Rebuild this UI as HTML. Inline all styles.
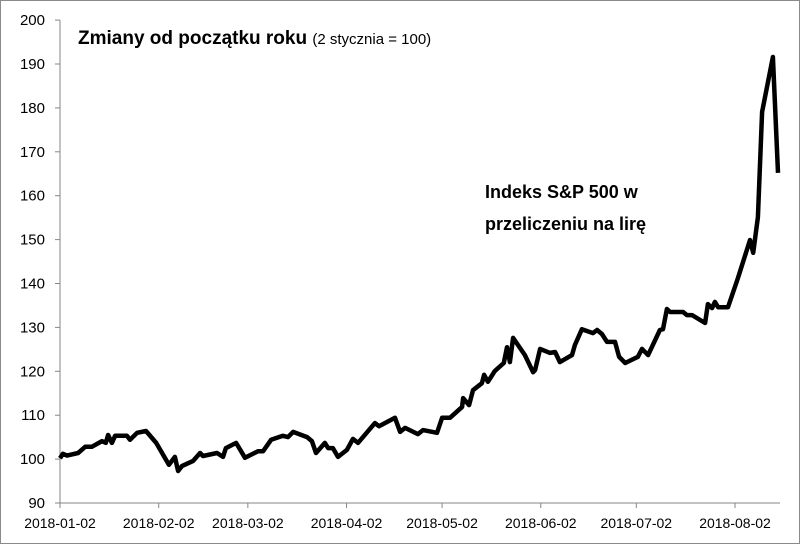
<!DOCTYPE html>
<html><head><meta charset="utf-8"><style>
body{margin:0;background:#fff}
svg{display:block;font-family:"Liberation Sans",Calibri,sans-serif}
</style></head><body>
<svg id="chart" width="800" height="544">
<rect x="0.5" y="0.5" width="799" height="543" fill="#fff" stroke="#8a8a8a"/>
<text x="78" y="44" font-size="19" font-weight="bold" fill="#000">Zmiany od początku roku <tspan font-size="15" font-weight="normal">(2 stycznia = 100)</tspan></text>
<text x="485" y="198" font-size="18" font-weight="bold">Indeks S&amp;P 500 w</text>
<text x="485" y="230" font-size="18" font-weight="bold">przeliczeniu na lirę</text>
<g id="axes"></g>
<g id="marks"></g>
</svg>
<script>
const days=[0,0.9,2.2,5.7,7.9,10,13.2,14.4,15.1,16.3,17.3,21,22,24.2,27,30.2,34.2,36.1,37.1,38.3,41.8,44,44.9,49.3,51.2,52.1,55.3,58.1,62.2,63.8,66.3,70,71.6,73.2,77.6,79.1,80.4,83.2,84.2,85.7,87.3,90.1,92,93.6,98.9,100.2,105.2,106.8,108.4,112.4,114,118.4,120,122.5,126.3,126.6,128.5,129.7,132.5,133.2,134.4,136.6,139.4,140.4,141.3,142.3,146,148.6,149.2,150.8,153.9,155.5,157,160.8,161.7,163.9,167.4,168.7,170.2,171.8,174.3,175.6,177.5,181.5,182.8,184.7,188.4,189.4,190.6,191.6,195.7,196.9,198.5,202.6,203.5,204.8,205.7,206.7,209.8,212.9,216.7,217.7,219.2,220.5,223.9,225.5];
const values=[100.2,101.2,100.8,101.4,102.8,102.8,104.1,103.7,105.5,103.7,105.3,105.3,104.4,106,106.4,103.7,98.7,100.5,97.3,98.4,99.6,101.4,100.7,101.4,100.5,102.5,103.7,100.3,101.8,101.8,104.4,105.3,105,106.2,105,104.1,101.4,103.7,102.5,102.5,100.5,102.1,104.6,103.7,108.2,107.5,109.4,106.2,107.1,105.7,106.6,106,109.4,109.4,111.9,113.9,112.3,115.7,117.3,119.2,117.6,120.1,121.9,125.5,122.1,127.6,123.7,119.8,120.3,125.1,124.2,124.4,122.1,123.7,126,129.6,128.7,129.4,128.5,126.7,126.7,123.3,121.9,123.3,125.1,123.7,129.4,129.6,134.2,133.5,133.5,132.8,132.8,131,135.3,134.4,135.8,134.6,134.6,141.2,149.9,147,155.1,179.1,191.6,165.2];
const yTicks=[90,100,110,120,130,140,150,160,170,180,190,200];
const xTickDays=[0,31,59,90,120,151,181,212];
const xTickLabels=["2018-01-02","2018-02-02","2018-03-02","2018-04-02","2018-05-02","2018-06-02","2018-07-02","2018-08-02"];
const NS="http://www.w3.org/2000/svg";
const X0=60,PXD=3.184,Y90=503,PXV=4.39;
function xs(d){return X0+d*PXD;}
function ys(v){return Y90-(v-90)*PXV;}
const axes=document.getElementById('axes'),marks=document.getElementById('marks');
function mk(tag,attrs,parent){const e=document.createElementNS(NS,tag);for(const k in attrs)e.setAttribute(k,attrs[k]);parent.appendChild(e);return e;}
const ya=mk('line',{x1:60,y1:ys(200),x2:60,y2:503,stroke:'#868686','stroke-width':1},axes);


const xa=mk('line',{x1:60,y1:503,x2:780,y2:503,stroke:'#868686','stroke-width':1},axes);


yTicks.forEach(v=>{
  const t=mk('line',{x1:55,x2:60,y1:ys(v),y2:ys(v),stroke:'#868686'},axes);
  
  
  const l=mk('text',{x:45,y:ys(v)+5,'text-anchor':'end','font-size':15,fill:'#000'},axes);
  l.textContent=v;
  
  
});
xTickDays.forEach((d,i)=>{
  const t=mk('line',{x1:xs(d),x2:xs(d),y1:503,y2:508,stroke:'#868686'},axes);
  
  
  const l=mk('text',{x:xs(d),y:528,'text-anchor':'middle','font-size':14,fill:'#000'},axes);
  l.textContent=xTickLabels[i];
  
  
});
const pts=days.map((d,i)=>xs(d).toFixed(1)+','+ys(values[i]).toFixed(1)).join(' ');
const line=mk('polyline',{points:pts,fill:'none',stroke:'#000','stroke-width':4.5,'stroke-linejoin':'round'},marks);


</script>
</body></html>
